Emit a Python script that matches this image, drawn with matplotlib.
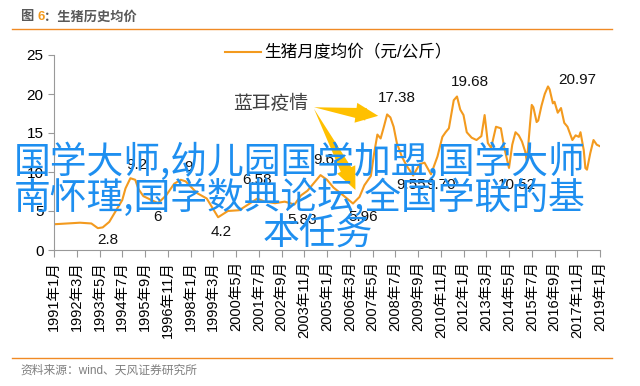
import pandas as pd
import matplotlib
matplotlib.use("Agg")
import matplotlib.pyplot as plt
from matplotlib.lines import Line2D

plt.rcParams['font.family'] = ['Liberation Sans', 'Noto Sans CJK SC', 'DejaVu Sans']

# 生猪月度均价（元/公斤），按图读取的月份与数值
months = ['1991-01', '1991-09', '1992-05', '1992-12', '1993-04', '1993-07', '1993-11',
          '1994-03', '1994-07', '1994-09', '1994-12', '1995-03', '1995-05', '1995-08',
          '1996-01', '1996-05', '1996-10', '1997-03', '1997-07', '1997-10', '1998-05',
          '1998-11', '1999-06', '1999-12', '2000-07', '2001-01', '2001-06', '2001-11',
          '2002-05', '2002-11', '2003-05', '2003-09', '2004-01', '2004-05', '2004-09',
          '2005-01', '2005-05', '2005-11', '2006-05', '2006-09', '2006-12', '2007-04',
          '2007-06', '2007-08', '2007-10', '2007-12', '2008-02', '2008-04', '2008-06',
          '2008-08', '2008-11', '2009-02', '2009-06', '2009-10', '2010-01', '2010-05',
          '2010-09', '2010-12', '2011-02', '2011-04', '2011-07', '2011-09', '2011-11',
          '2012-01', '2012-03', '2012-06', '2012-09', '2012-12', '2013-02', '2013-04',
          '2013-06', '2013-09', '2013-12', '2014-02', '2014-05', '2014-07', '2014-09',
          '2014-11', '2015-01', '2015-03', '2015-04', '2015-06', '2015-07', '2015-08',
          '2015-10', '2015-11', '2016-01', '2016-03', '2016-05', '2016-06', '2016-08',
          '2016-09', '2016-11', '2017-01', '2017-03', '2017-05', '2017-08', '2017-10',
          '2017-12', '2018-01', '2018-03', '2018-04', '2018-05', '2018-07', '2018-09',
          '2018-11', '2019-01']
price = [3.3, 3.4, 3.5, 3.4, 2.8, 2.9, 3.6,
         5.0, 6.4, 7.9, 9.2, 9.0, 7.8, 6.9,
         6.4, 6.0, 7.0, 8.5, 9.0, 8.8, 7.3,
         6.6, 4.2, 5.0, 5.1, 5.9, 6.58, 6.2,
         6.0, 6.2, 5.83, 7.0, 7.6, 8.6, 9.6,
         9.0, 8.0, 7.0, 5.96, 6.8, 8.3, 9.5,
         12.4, 14.8, 14.3, 15.8, 17.38, 17.0, 15.8,
         13.7, 12.0, 10.8, 9.55, 11.0, 11.2, 9.70,
         12.0, 14.5, 15.1, 15.6, 19.2, 19.68, 18.0,
         17.3, 15.1, 14.4, 14.1, 14.6, 17.3, 13.7,
         13.1, 15.8, 15.6, 13.2, 10.52, 13.5, 15.1,
         14.7, 13.9, 12.6, 11.3, 16.3, 18.6, 18.3,
         16.4, 16.6, 18.5, 20.0, 20.97, 20.6, 18.8,
         19.0, 17.6, 18.2, 16.3, 15.8, 14.1, 14.7,
         14.5, 15.1, 12.8, 10.5, 10.3, 12.4, 14.1,
         13.5, 13.3]

# 数据标签：文字与其在图中的位置（月份序号, 数值）
label_text = ['9.2', '9', '6', '2.8', '4.2', '6.58', '5.83', '9.6', '5.96',
              '17.38', '9.55', '9.70', '19.68', '10.52', '20.97']
label_month = [51, 83, 64, 33, 103, 125, 153, 166, 190, 211, 220, 238, 256, 285, 322]
label_value = [10.9, 10.6, 4.2, 1.3, 2.3, 9.0, 3.85, 11.5, 4.2, 19.5, 8.3, 8.3, 21.5, 8.3, 21.8]

start = pd.Period('1991-01', freq='M')
x = [(pd.Period(m, freq='M') - start).n for m in months]
tick_pos = list(range(0, 337, 14))
tick_labels = [f"{(start + p).year}年{(start + p).month}月" for p in tick_pos]

orange = '#F39A1E'
fig = plt.figure(figsize=(6.4, 3.86), dpi=100)
ax = fig.add_axes([54 / 640, 1 - 250 / 386, 546 / 640, 195 / 386])

ax.plot(x, price, color=orange, lw=1.5, label='生猪月度均价（元/公斤）')
ax.set_xlim(0, 336)
ax.set_ylim(0, 25)
ax.set_yticks([0, 5, 10, 15, 20, 25])
ax.set_xticks(tick_pos)
ax.set_xticklabels(tick_labels, rotation=90, fontsize=10.5)
ax.tick_params(axis='y', labelsize=11, length=4, color='#999999')
ax.tick_params(axis='x', length=5, color='#999999', pad=3)
for s in ['top', 'right']:
    ax.spines[s].set_visible(False)
for s in ['left', 'bottom']:
    ax.spines[s].set_color('#999999')

for t, m, v in zip(label_text, label_month, label_value):
    ax.text(m, v, t, ha='center', va='center', fontsize=11, color='#111111')

# 蓝耳疫情 标注与箭头（楔形箭身 + 三角箭头）
ax.text(133, 18.7, '蓝耳疫情', ha='center', va='center', fontsize=13.5, color='#404040')
yellow = '#FFC000'
wedge = dict(arrowstyle='wedge,tail_width=0.45,shrink_factor=0.5', color=yellow,
             mutation_scale=20, shrinkA=0, shrinkB=0, lw=0)
head = dict(arrowstyle='simple,head_length=0.9,head_width=0.8,tail_width=0.01', color=yellow,
            mutation_scale=18, shrinkA=0, shrinkB=0, lw=0)
ax.annotate('', xy=(160, 18.3), xytext=(192, 17.4), arrowprops=wedge)
ax.annotate('', xy=(199.5, 17.2), xytext=(189, 17.5), arrowprops=head)
ax.annotate('', xy=(160, 18.1), xytext=(181.5, 9.6), arrowprops=wedge)
ax.annotate('', xy=(185.5, 7.7), xytext=(180.5, 10.0), arrowprops=head)

ax.legend(loc='upper left', bbox_to_anchor=(0.285, 1.13), frameon=False,
          fontsize=12, handlelength=2.2, handletextpad=0.2)

# 标题与来源
fig.text(20 / 640, 1 - 17 / 386, '图', fontsize=9.5, weight='bold', color='#595959', va='center')
fig.text(37 / 640, 1 - 17 / 386, '6', fontsize=9.5, weight='bold', color=orange, va='center')
fig.text(44 / 640, 1 - 17 / 386, '：生猪历史均价', fontsize=9.5, weight='bold', color='#595959', va='center')
fig.add_artist(Line2D([12 / 640, 612 / 640], [1 - 29 / 386] * 2, color='#F08A24', lw=1))
fig.add_artist(Line2D([12 / 640, 612 / 640], [1 - 358 / 386] * 2, color='#F08A24', lw=1))
fig.text(20 / 640, 1 - 371 / 386, '资料来源：wind、天风证券研究所', fontsize=8.5, color='#7F7F7F', va='center')

# 水印文字
blue = '#1E8FF0'
fig.text(14 / 640, 1 - 162 / 386, '国学大师,幼儿园国学加盟,国学大师', fontsize=26.5, color=blue,
         va='center', family=['Noto Sans CJK SC'])
fig.text(14 / 640, 1 - 198 / 386, '南怀瑾,国学数典论坛,全国学联的基', fontsize=26.5, color=blue,
         va='center', family=['Noto Sans CJK SC'])
fig.text(318 / 640, 1 - 234 / 386, '本任务', fontsize=26.5, color=blue,
         ha='center', va='center', family=['Noto Sans CJK SC'])

fig.savefig('out.png', dpi=100)
